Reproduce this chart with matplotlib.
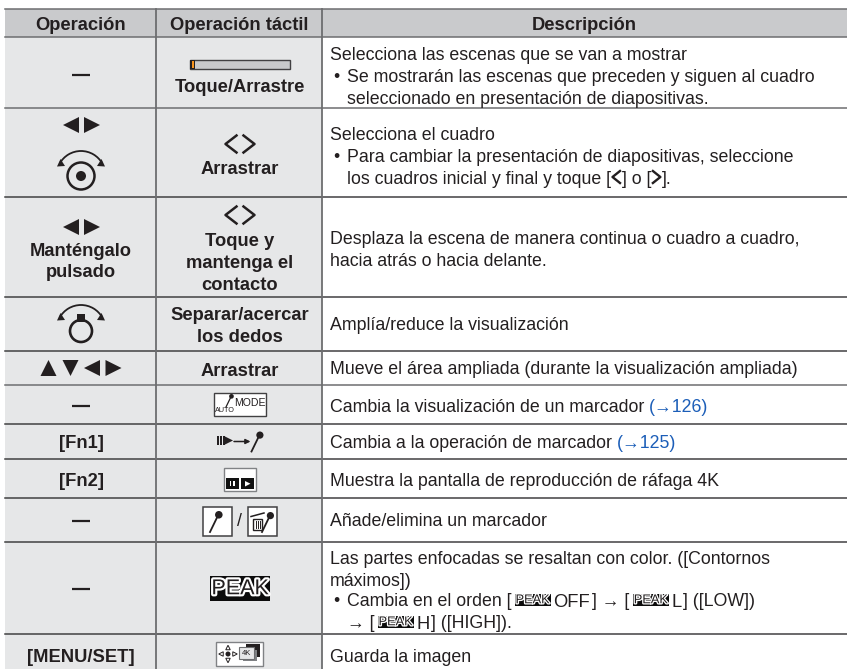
import matplotlib
matplotlib.use("Agg")
import matplotlib.pyplot as plt
from matplotlib.patches import Rectangle, Polygon, Circle, Arc
import matplotlib.patheffects as pe

plt.rcParams['font.family'] = ['Liberation Sans', 'DejaVu Sans']

W, H = 847, 669
headers = ["Operación", "Operación táctil", "Descripción"]
operations = [["—"], [], ["Manténgalo", "pulsado"], [], [], ["—"], ["[Fn1]"], ["[Fn2]"], ["—"], ["—"], ["[MENU/SET]"]]
touch = [["Toque/Arrastre"], ["Arrastrar"], ["Toque y", "mantenga el", "contacto"],
         ["Separar/acercar", "los dedos"], ["Arrastrar"], [], [], [], [], [], []]
descriptions = [
    "Selecciona las escenas que se van a mostrar",
    "Selecciona el cuadro",
    "Desplaza la escena de manera continua o cuadro a cuadro,",
    "Amplía/reduce la visualización",
    "Mueve el área ampliada (durante la visualización ampliada)",
    "Cambia la visualización de un marcador ",
    "Cambia a la operación de marcador ",
    "Muestra la pantalla de reproducción de ráfaga 4K",
    "Añade/elimina un marcador",
    "Las partes enfocadas se resaltan con color. ([Contornos",
    "Guarda la imagen",
]
links = {5: "(→126)", 6: "(→125)"}

# layout, pixels
col_x = [5, 156, 322, 847]
row_y = [9, 37, 108, 197, 297, 351, 385, 424, 459, 498, 542, 634, 669]
op_y = [75, None, 249, 0, 0, 406, 442, 480, 521, 589, 656]
touch_y = [85, 168, 240, 314, 369, 0, 0, 0, 0, 0, 0]
desc_y = [53, 133, 237, 324, 368, 405, 441, 479, 520, 557, 655]
LINE = 21.7
BODY = 12.8
BOLD = 13.2
INK = "#231f20"
BG = "#e6e7e8"
HEAD = "#c9cacc"

fig = plt.figure(figsize=(W / 100, H / 100), dpi=100)
ax = fig.add_axes([0, 0, 1, 1])
ax.set_xlim(0, W)
ax.set_ylim(H, 0)
ax.axis("off")


def box(x0, y0, x1, y1, fc="white", ec="none", lw=0, z=3):
    ax.add_patch(Rectangle((x0, y0), x1 - x0, y1 - y0, fc=fc, ec=ec, lw=lw, zorder=z))


def tri(cx, cy, size, d, fc=INK, ec="none", lw=0):
    s = size / 2
    pts = {"l": [(cx - s, cy), (cx + s, cy - s), (cx + s, cy + s)],
           "r": [(cx + s, cy), (cx - s, cy - s), (cx - s, cy + s)],
           "u": [(cx, cy - s), (cx - s, cy + s), (cx + s, cy + s)],
           "d": [(cx, cy + s), (cx - s, cy - s), (cx + s, cy - s)]}[d]
    ax.add_patch(Polygon(pts, fc=fc, ec=ec, lw=lw, zorder=5))


def chevrons(cy, cx=240, h=8.5, w=11, gap=3.5, lw=1.8):
    ax.plot([cx - gap, cx - gap - w, cx - gap], [cy - h, cy, cy + h], color=INK, lw=lw, zorder=4)
    ax.plot([cx + gap, cx + gap + w, cx + gap], [cy - h, cy, cy + h], color=INK, lw=lw, zorder=4)


def dial_arc(cx, top):
    # bowed arrow above the dial, arrowheads at both ends
    ax.add_patch(Arc((cx, top + 24.4), 48.8, 48.8, theta1=209, theta2=331, color=INK, lw=1.3, zorder=4))
    for sx in (-1, 1):
        ax.add_patch(Polygon([(cx + sx * 24, top + 15.5), (cx + sx * 16, top + 15), (cx + sx * 20.5, top + 8)],
                             fc=INK, ec="none", zorder=4))


def mic(x, y, h=20, lw=1.3):
    ax.plot([x, x + h * 0.34], [y + h, y + h * 0.3], color=INK, lw=lw, zorder=5)
    ax.add_patch(Circle((x + h * 0.42, y + h * 0.18), h * 0.18, fc=INK, ec="none", zorder=5))


def peak_icon(x0, y0, x1, y1, size):
    box(x0, y0, x1, y1, fc="#0c0c0c", z=4)
    t = ax.text((x0 + x1) / 2, (y0 + y1) / 2 + 0.5, "PEAK", ha="center", va="center", fontsize=size,
                color=INK, zorder=5)
    t.set_path_effects([pe.withStroke(linewidth=size * 0.2, foreground="white")])


def put_line(x, y, parts):
    # parts: strings, (string, colour) or (width, draw function)
    rend = fig.canvas.get_renderer()
    for p in parts:
        if isinstance(p, tuple) and callable(p[1]):
            p[1](x)
            x += p[0]
            continue
        s, c = p if isinstance(p, tuple) else (p, INK)
        t = ax.text(x, y, s, fontsize=BODY, color=c, ha="left", va="center_baseline", zorder=5)
        x = t.get_window_extent(rend).x1
    return x


# backgrounds and rules
box(col_x[0], row_y[1], col_x[2], H, fc=BG, z=0)
box(col_x[0], row_y[0], W, row_y[1], fc=HEAD, z=0)
for y in row_y[:-1]:
    grey = y in (9, 37, 108, 385)
    ax.plot([col_x[0], W], [y, y], color="#6d6e70" if grey else "#414042", lw=1.1, zorder=2)
for x in col_x[1:3]:
    ax.plot([x, x], [row_y[0], H], color="#6d6e70", lw=1.3, zorder=2)

for i, h in enumerate(headers):
    ax.text((col_x[i] + col_x[i + 1]) / 2, 23.5, h, ha="center", va="center_baseline", fontsize=BOLD,
            fontweight="bold", color=INK)

# first two columns, text
for i, lines in enumerate(operations):
    for j, s in enumerate(lines):
        if s == "—":
            ax.plot([71.5, 90], [op_y[i], op_y[i]], color=INK, lw=1.6, zorder=4, solid_capstyle="butt")
        else:
            ax.text(81, op_y[i] + j * LINE, s, ha="center", va="center_baseline", fontsize=BOLD,
                    fontweight="bold", color=INK)
for i, lines in enumerate(touch):
    for j, s in enumerate(lines):
        ax.text(239.5, touch_y[i] + j * LINE, s, ha="center", va="center_baseline", fontsize=BOLD,
                fontweight="bold", color=INK)

# row 1 slider
box(190, 59.5, 289.5, 69, fc="#c8c9cb", ec="#414042", lw=1, z=3)
box(190, 59.5, 195, 69, fc="#231f20", z=4)
box(192, 61, 194, 67.5, fc="#f7941d", z=5)

# row 2 / 3 arrows and dial
tri(71, 125, 16, "l")
tri(92, 125, 16, "r")
dial_arc(81, 151)
ax.add_patch(Circle((81, 176), 13.5, fc="none", ec=INK, lw=1.8, zorder=4))
ax.add_patch(Circle((81, 176), 5, fc=INK, ec="none", zorder=4))
chevrons(144)
tri(71, 227, 16, "l")
tri(92, 227, 16, "r")
chevrons(215)

# row 4 dial
dial_arc(81, 305)
ax.add_patch(Circle((81, 331), 11, fc="none", ec=INK, lw=1.9, zorder=4))
box(77, 314, 85, 322, fc=INK, z=4)

# row 5 arrows
tri(48.5, 368, 16, "u")
tri(70.5, 368, 16, "d")
tri(92, 368, 16, "l")
tri(113.5, 368, 16, "r")

# row 6 auto mode icon
box(213.5, 392.5, 265.5, 416, fc="white", ec="#414042", lw=1)
ax.text(225, 410, "AUTO", fontsize=5.2, ha="center", va="center", color=INK, zorder=5)
mic(226, 394, h=13, lw=0.9)
ax.text(250, 403, "MODE", fontsize=7.6, ha="center", va="center", color=INK, zorder=5)

# row 7 marker switch icon
box(216.5, 436, 218.5, 445, fc=INK)
box(219.5, 436, 221.5, 445, fc=INK)
box(222.5, 436, 224.5, 445, fc=INK)
tri(228.5, 440.5, 9, "r")
ax.annotate("", xy=(250.5, 441.5), xytext=(234, 441.5),
            arrowprops=dict(arrowstyle="-|>", color=INK, lw=1.1, mutation_scale=7, shrinkA=0, shrinkB=0), zorder=5)
mic(251.5, 431.5, h=20)

# row 8 burst icon
box(224, 468, 256, 491, fc="white", ec="#808285", lw=1)
box(226, 478, 238.5, 489, fc="#111111", z=4)
box(241, 478, 254, 489, fc="#111111", z=4)
box(229.5, 481, 231, 486, fc="white", z=5)
box(233, 481, 234.5, 486, fc="white", z=5)
ax.add_patch(Polygon([(245, 481), (245, 486.5), (250.5, 483.7)], fc="white", ec="none", zorder=5))

# row 9 marker icons
box(203, 506.5, 232, 535.5, fc="white", ec="#414042", lw=1.1)
mic(210, 511, h=21, lw=1.3)
ax.text(239.5, 522, "/", fontsize=BODY, ha="center", va="center", color=INK, zorder=5)
box(248, 506.5, 277, 535.5, fc="white", ec="#414042", lw=1.1)
box(252.5, 519, 262, 530, fc="white", ec=INK, lw=1, z=4)
ax.plot([251, 264], [516.5, 513], color=INK, lw=1.1, zorder=5)
for x in (255.5, 257.5, 259.5):
    ax.plot([x, x], [520.5, 528], color=INK, lw=0.7, zorder=5)
mic(262, 512, h=20)

# row 10 peak
peak_icon(210, 576, 270, 600.5, 15.5)

# row 11 save icon
box(216, 642, 263, 666, fc="white", ec="#808285", lw=1)
ax.add_patch(Circle((228, 654), 2.5, fc=INK, zorder=5))
tri(228, 647.5, 4.5, "u", fc="white", ec=INK, lw=0.7)
tri(228, 660.5, 4.5, "d", fc="white", ec=INK, lw=0.7)
tri(221, 654, 4.5, "l", fc="white", ec=INK, lw=0.7)
tri(235, 654, 4.5, "r", fc="white", ec=INK, lw=0.7)
box(246, 644, 260, 657, fc="#231f20", z=4)
box(243, 650, 257, 661, fc="#808285", z=4)
box(239, 647, 254, 659, fc="#e6e7e8", ec="#6d6e70", lw=0.8, z=5)
ax.text(246.5, 653.2, "4K", fontsize=5.5, ha="center", va="center", color=INK, zorder=6)

# description column
for i, s in enumerate(descriptions):
    parts = [s]
    if i in links:
        parts.append((links[i], "#1c5eb8"))
    put_line(330, desc_y[i], parts)


def bullet(y):
    ax.text(336, y, "•", fontsize=BODY, ha="center", va="center_baseline", color=INK, zorder=5)


def small_chevron(x, y, d):
    xs = [x + 9, x + 1.5, x + 9] if d == "l" else [x + 1.5, x + 9, x + 1.5]
    ax.plot(xs, [y - 6, y, y + 6], color=INK, lw=1.7, zorder=5)


def small_peak(y):
    return lambda x: peak_icon(x + 3, y - 6.5, x + 39, y + 6, 9.2)


def label_icon(s, y):
    # letters set a little larger beside the small peak icons
    return lambda x: ax.text(x, y + 0.5, s, fontsize=13.2, color=INK, va="center_baseline", zorder=5)


bullet(75)
put_line(347, 75, ["Se mostrarán las escenas que preceden y siguen al cuadro"])
put_line(347, 97, ["seleccionado en presentación de diapositivas."])
bullet(155)
put_line(347, 155, ["Para cambiar la presentación de diapositivas, seleccione"])
put_line(347, 177, ["los cuadros inicial y final y toque [",
                    (11, lambda x: small_chevron(x, 177, "l")), "] o [",
                    (11, lambda x: small_chevron(x, 177, "r")), "]."])
put_line(330, 259, ["hacia atrás o hacia delante."])
put_line(330, 579, ["máximos])"])
bullet(600)
put_line(347, 600, ["Cambia en el orden [", (42, small_peak(600)),
                    (39, label_icon("OFF", 600)),
                    "] → [", (42, small_peak(600)),
                    (11.5, label_icon("L", 600)),
                    "] ([LOW])"])
put_line(347, 622, ["→ [", (42, small_peak(622)),
                    (14.5, label_icon("H", 622)),
                    "] ([HIGH])."])

fig.savefig("out.png", dpi=100)
